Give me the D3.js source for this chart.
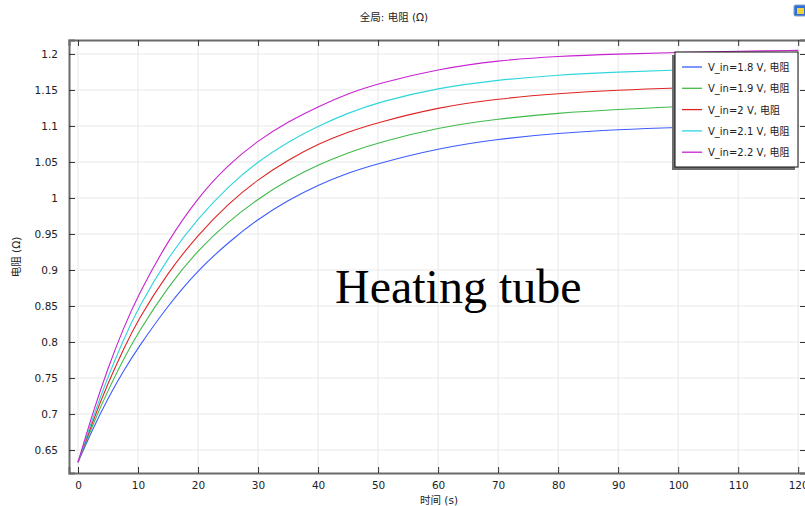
<!DOCTYPE html>
<html>
<head>
<meta charset="utf-8">
<script src="https://cdn.jsdelivr.net/npm/d3@7/dist/d3.min.js"></script>
<style>
  html, body { margin: 0; padding: 0; background: #ffffff; }
  svg { display: block; }
  text { font-family: "DejaVu Sans", "Noto Sans CJK SC", sans-serif; fill: #222; }
</style>
</head>
<body>
<svg id="chart" width="805" height="506"></svg>
<script>
// Sample times (s)
const times = [0, 2.5, 5, 7.5, 10, 15, 20, 25, 30, 35, 40, 45, 50, 60, 70, 80, 90, 100, 110, 120];

// Resistance (Ω) for each input voltage
const r18 = [0.633, 0.680, 0.722, 0.759, 0.792, 0.851, 0.900, 0.938, 0.971, 0.997, 1.018, 1.035, 1.048, 1.069, 1.082, 1.090, 1.095, 1.098, 1.100, 1.101];
const r19 = [0.633, 0.686, 0.733, 0.775, 0.813, 0.877, 0.928, 0.967, 0.999, 1.025, 1.046, 1.063, 1.077, 1.098, 1.110, 1.118, 1.123, 1.127, 1.129, 1.130];
const r20 = [0.633, 0.691, 0.743, 0.789, 0.831, 0.897, 0.949, 0.992, 1.026, 1.053, 1.075, 1.092, 1.105, 1.126, 1.138, 1.145, 1.150, 1.153, 1.155, 1.156];
const r21 = [0.633, 0.696, 0.752, 0.802, 0.847, 0.918, 0.972, 1.016, 1.051, 1.078, 1.100, 1.118, 1.133, 1.153, 1.164, 1.171, 1.175, 1.178, 1.180, 1.181];
const r22 = [0.633, 0.703, 0.764, 0.818, 0.865, 0.941, 1.001, 1.046, 1.080, 1.106, 1.127, 1.145, 1.159, 1.179, 1.191, 1.197, 1.200, 1.202, 1.204, 1.205];

const seriesNames = ["V_in=1.8 V, 电阻", "V_in=1.9 V, 电阻", "V_in=2 V, 电阻", "V_in=2.1 V, 电阻", "V_in=2.2 V, 电阻"];
const seriesColors = ["#3d5cff", "#3fbb4a", "#e02424", "#2fd6dc", "#c823d2"];
const seriesValues = [r18, r19, r20, r21, r22];

const xTicks = [0, 10, 20, 30, 40, 50, 60, 70, 80, 90, 100, 110, 120];
const yTicks = [0.65, 0.7, 0.75, 0.8, 0.85, 0.9, 0.95, 1, 1.05, 1.1, 1.15, 1.2];

const titleText = "全局: 电阻 (Ω)";
const xLabel = "时间 (s)";
const yLabel = "电阻 (Ω)";
const overlayText = "Heating tube";

const svg = d3.select("#chart");
const plot = { left: 69, right: 806, top: 40, bottom: 473 };

const x = d3.scaleLinear().domain([-1.5, 121.3]).range([plot.left, plot.right]);
const y = d3.scaleLinear().domain([0.6181, 1.2194]).range([plot.bottom, plot.top]);

// grid
const grid = svg.append("g");
grid.selectAll("line.gx").data(xTicks).join("line")
  .attr("x1", d => x(d)).attr("x2", d => x(d))
  .attr("y1", plot.top).attr("y2", plot.bottom)
  .attr("stroke", "#e8e8e8").attr("stroke-width", 1);
grid.selectAll("line.gy").data(yTicks).join("line")
  .attr("x1", plot.left).attr("x2", plot.right)
  .attr("y1", d => y(d)).attr("y2", d => y(d))
  .attr("stroke", "#e8e8e8").attr("stroke-width", 1);

// curves
svg.append("defs").append("clipPath").attr("id", "clip")
  .append("rect").attr("x", plot.left).attr("y", plot.top)
  .attr("width", plot.right - plot.left).attr("height", plot.bottom - plot.top);

const line = d3.line()
  .x((d, i) => x(times[i]))
  .y(d => y(d))
  .curve(d3.curveBasis);

svg.append("g").attr("clip-path", "url(#clip)")
  .selectAll("path").data(seriesValues).join("path")
  .attr("d", d => line(d))
  .attr("fill", "none")
  .attr("stroke", (d, i) => seriesColors[i])
  .attr("stroke-width", 1.1);

// axes (ticks point inward)
const fmt = d => String(+d.toFixed(2));
const axisColor = "#6a6a6a";

const bottomAxis = svg.append("g").attr("transform", `translate(0,${plot.bottom})`)
  .call(d3.axisBottom(x).tickValues(xTicks).tickSize(-6).tickPadding(9).tickFormat(fmt));
const topAxis = svg.append("g").attr("transform", `translate(0,${plot.top})`)
  .call(d3.axisTop(x).tickValues(xTicks).tickSize(-6).tickFormat(""));
const leftAxis = svg.append("g").attr("transform", `translate(${plot.left},0)`)
  .call(d3.axisLeft(y).tickValues(yTicks).tickSize(-6).tickPadding(11).tickFormat(fmt));
const rightAxis = svg.append("g").attr("transform", `translate(${plot.right},0)`)
  .call(d3.axisRight(y).tickValues(yTicks).tickSize(-6).tickFormat(""));

[bottomAxis, topAxis, leftAxis, rightAxis].forEach(g => {
  g.select(".domain").attr("stroke", axisColor).attr("stroke-width", 2);
  g.selectAll(".tick line").attr("stroke", "#333").attr("stroke-width", 1);
  g.selectAll(".tick text").attr("font-family", "DejaVu Sans, sans-serif")
    .attr("font-size", 10.5).attr("fill", "#222");
});

// titles
svg.append("text").attr("x", 394).attr("y", 21).attr("text-anchor", "middle")
  .attr("font-size", 10.5).text(titleText);
svg.append("text").attr("x", 439).attr("y", 504).attr("text-anchor", "middle")
  .attr("font-size", 10.5).text(xLabel);
svg.append("text").attr("transform", "translate(20,257) rotate(-90)")
  .attr("text-anchor", "middle").attr("font-size", 10.5).text(yLabel);

// overlay annotation
svg.append("text").attr("x", 335).attr("y", 303)
  .style("font-family", "'Liberation Serif', 'Times New Roman', serif")
  .style("font-size", "48px").style("fill", "#000")
  .text(overlayText);

// legend
const lg = svg.append("g").attr("transform", "translate(675,52)");
const lgW = 123, lgH = 115;
lg.append("rect").attr("x", -3).attr("y", 3).attr("width", lgW).attr("height", lgH).attr("fill", "#6e6e6e");
lg.append("rect").attr("x", 0).attr("y", 0).attr("width", lgW).attr("height", lgH)
  .attr("fill", "#fff").attr("stroke", "#111").attr("stroke-width", 1);
const items = lg.selectAll("g.item").data(seriesNames).join("g")
  .attr("transform", (d, i) => `translate(0,${15 + i * 21.3})`);
items.append("line").attr("x1", 7).attr("x2", 27).attr("y1", 0).attr("y2", 0)
  .attr("stroke", (d, i) => seriesColors[i]).attr("stroke-width", 1.3);
items.append("text").attr("x", 33).attr("y", 4).attr("font-size", 10).text(d => d);

// small window icon, top right
const ic = svg.append("g").attr("transform", "translate(794,5)");
ic.append("rect").attr("x", 0).attr("y", 0).attr("width", 12).attr("height", 11).attr("rx", 1.5)
  .attr("fill", "#2f6fd8").attr("stroke", "#8aa6c8").attr("stroke-width", 1);
ic.append("rect").attr("x", 3).attr("y", 3).attr("width", 7).attr("height", 6).attr("fill", "#f2d23c");
</script>
</body>
</html>
